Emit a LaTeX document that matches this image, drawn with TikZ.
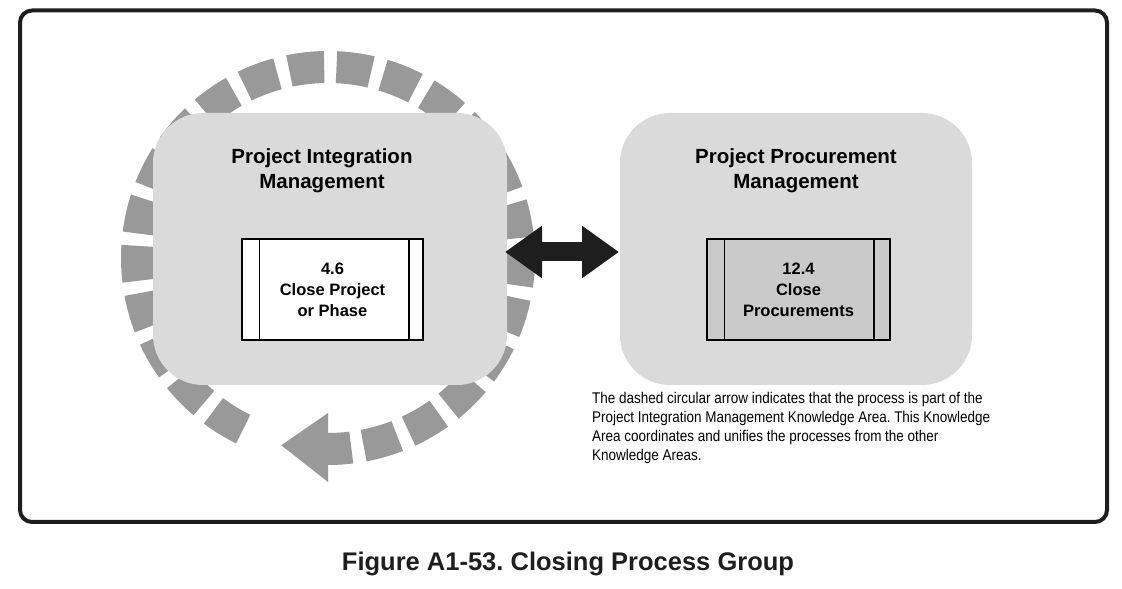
\documentclass[tikz,border=0pt]{standalone}
\usepackage{fontspec}
\setmainfont{Liberation Sans}
\newfontfamily\notefont[FakeStretch=0.87]{Liberation Sans}
\usetikzlibrary{arrows.meta,calc}
\definecolor{ringgray}{HTML}{999999}
\definecolor{boxgray}{HTML}{DADADA}
\definecolor{procgray}{HTML}{CACACA}
\definecolor{framecol}{HTML}{1E1E1E}
\tikzset{
  area/.style={fill=boxgray, draw=none, rounded corners=50pt},
  procbox/.style={draw=black, line width=1.5pt, minimum width=181pt, minimum height=101pt, inner sep=0pt},
  sidebar/.style={draw=black, line width=1.5pt},
  areatitle/.style={font=\fontsize{20.5}{25}\selectfont\bfseries, align=center},
  proctext/.style={font=\fontsize{16.5}{21}\selectfont\bfseries, align=center},
  dashseg/.style={fill=ringgray, draw=none},
  bigdouble/.style={line width=19pt, draw=framecol,
    {Triangle[length=37pt, width=50pt]}-{Triangle[length=37pt, width=50pt]}},
}
\begin{document}
\frenchspacing
\begin{tikzpicture}[x=1pt, y=1pt]
\useasboundingbox (0,0) rectangle (1122,589);
% outer frame
\draw[framecol, line width=4pt, rounded corners=12pt] (20,578.5) rectangle (1107,67);
% dashed circular arrow
\coordinate (c) at (328,331);
\foreach \k in {0,...,22}{
  \pgfmathsetmacro{\a}{286+14.2*\k}
  \pgfmathsetmacro{\aa}{\a-5.25}
  \pgfmathsetmacro{\ab}{\a+5.25}
  \fill[dashseg] ($(c)+(\aa:175)$) arc[start angle=\aa, end angle=\ab, radius=175]
    -- ($(c)+(\ab:207)$) arc[start angle=\ab, end angle=\aa, radius=207] -- cycle;
}
% arrow stem and head
\fill[dashseg] ($(c)+(269.5:175)$) arc[start angle=269.5, end angle=277, radius=175]
  -- ($(c)+(277:207)$) arc[start angle=277, end angle=269.5, radius=207] -- cycle;
\fill[dashseg] ($(c)+(270:155)$) -- ($(c)+(270:224)$) -- ($(c)+(256:193)$) -- cycle;
% knowledge areas
\node[area, minimum width=354pt, minimum height=272pt] (pim) at (330,340) {};
\node[area, minimum width=352pt, minimum height=272pt] (ppm) at (796,340) {};
\node[areatitle] (pimt) at (322,418) {Project Integration\\Management};
\node[areatitle] (ppmt) at (796,418) {Project Procurement\\Management};
% processes
\node[procbox, fill=white] (p46) at (332.5,299.5) {};
\draw[sidebar] ([xshift=18pt]p46.north west) -- ([xshift=18pt]p46.south west);
\draw[sidebar] ([xshift=-15pt]p46.north east) -- ([xshift=-15pt]p46.south east);
\node[proctext] (p46t) at (p46) {4.6\\Close Project\\or Phase};
\node[procbox, fill=procgray, minimum width=183pt] (p124) at (798.5,299.5) {};
\draw[sidebar] ([xshift=18pt]p124.north west) -- ([xshift=18pt]p124.south west);
\draw[sidebar] ([xshift=-17pt]p124.north east) -- ([xshift=-17pt]p124.south east);
\node[proctext] (p124t) at (p124) {12.4\\Close\\Procurements};
% double arrow
\coordinate (al) at (505,337);
\coordinate (ar) at (619,337);
\draw[bigdouble] (al) -- (ar);
% note
\node[anchor=north west, align=left, inner sep=0pt,
  font=\notefont\fontsize{15.5}{19}\selectfont] (note) at (592,197)
  {The dashed circular arrow indicates that the process is part of the\\
   Project Integration Management Knowledge Area. This Knowledge\\
   Area coordinates and unifies the processes from the other\\
   Knowledge Areas.};
% caption
\node[anchor=base, inner sep=0pt, font=\fontsize{25.5}{30}\selectfont\bfseries, text=framecol] (cap) at (568,18)
  {Figure A1-53. Closing Process Group};
\end{tikzpicture}
\end{document}
